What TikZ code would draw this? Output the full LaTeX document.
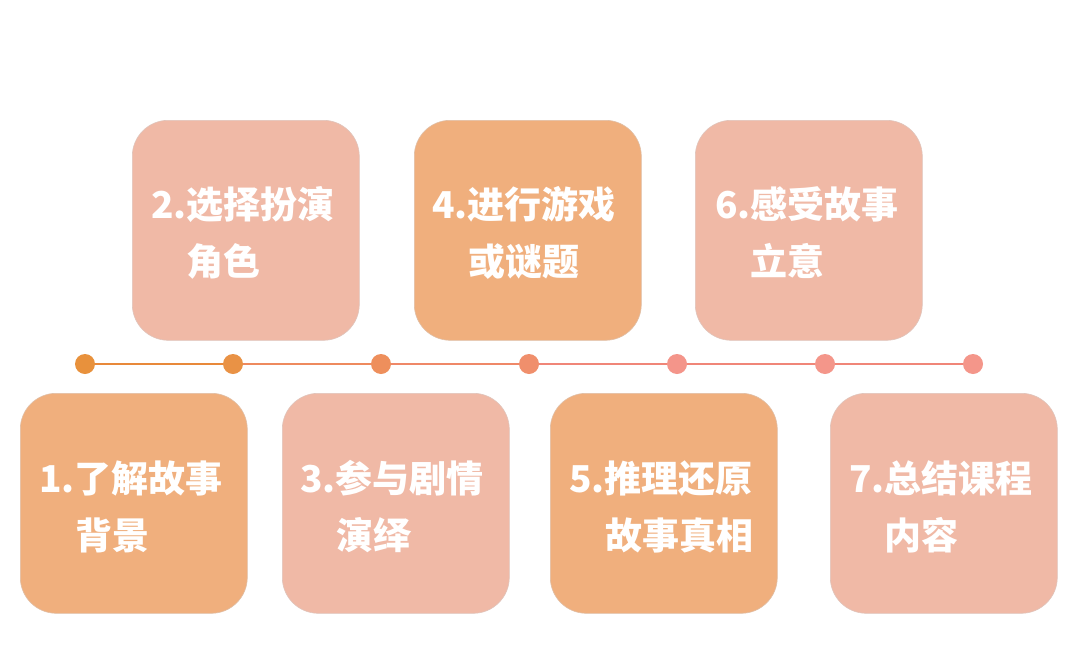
\documentclass[tikz,border=0pt]{standalone}
\usepackage{fontspec}
\newfontfamily\cjk{Noto Sans CJK SC}
\begin{document}
\begin{tikzpicture}[x=1pt,y=-1pt,
  card/.style={draw=#1!85!black!60!white, line width=0.6pt, fill=#1, rounded corners=36pt, minimum width=227pt, minimum height=220pt, anchor=north west, inner sep=0pt},
  lbl/.style={anchor=base west, inner sep=0pt, text=white, font=\cjk\bfseries\fontsize{37}{42}\selectfont},
  dotc/.style={circle, fill=#1, minimum size=20pt, inner sep=0pt},
  seg/.style={draw=#1, line width=2pt}]
\definecolor{cOr}{HTML}{F0AF7D}
\definecolor{cPk}{HTML}{F0B9A6}
\definecolor{d1}{HTML}{E8913C}
\definecolor{d2}{HTML}{E99245}
\definecolor{d3}{HTML}{EE8F5C}
\definecolor{d4}{HTML}{F08F6C}
\definecolor{d5}{HTML}{F4958A}
\definecolor{d6}{HTML}{F4968A}
\definecolor{d7}{HTML}{F4968A}
\definecolor{l1}{HTML}{E8893A}
\definecolor{l2}{HTML}{EE8A5E}
\definecolor{l3}{HTML}{F08678}
\useasboundingbox[fill=white] (0,0) rectangle (1080,667);
% boxes
\node[card=cPk] (b2) at (132,120) {};
\node[card=cOr] (b4) at (414,120) {};
\node[card=cPk] (b6) at (695,120) {};
\node[card=cOr] (b1) at (20,393) {};
\node[card=cPk] (b3) at (282,393) {};
\node[card=cOr] (b5) at (550,393) {};
\node[card=cPk] (b7) at (830,393) {};
% labels
\node[lbl] (t2a) at (151,218) {2.选择扮演};
\node[lbl] (t2b) at (186,275) {角色};
\node[lbl] (t4a) at (432,218) {4.进行游戏};
\node[lbl] (t4b) at (468,275) {或谜题};
\node[lbl] (t6a) at (715,218) {6.感受故事};
\node[lbl] (t6b) at (750,275) {立意};
\node[lbl] (t1a) at (39,492) {1.了解故事};
\node[lbl] (t1b) at (75,549) {背景};
\node[lbl] (t3a) at (300,492) {3.参与剧情};
\node[lbl] (t3b) at (336,549) {演绎};
\node[lbl] (t5a) at (569,492) {5.推理还原};
\node[lbl] (t5b) at (605,549) {故事真相};
\node[lbl] (t7a) at (849,492) {7.总结课程};
\node[lbl] (t7b) at (884,549) {内容};
% timeline
\node[dotc=d1] (p1) at (85,364) {};
\node[dotc=d2] (p2) at (233,364) {};
\node[dotc=d3] (p3) at (381,364) {};
\node[dotc=d4] (p4) at (529,364) {};
\node[dotc=d5] (p5) at (677,364) {};
\node[dotc=d6] (p6) at (825,364) {};
\node[dotc=d7] (p7) at (973,364) {};
\draw[seg=l1] (p1) -- (p2);
\draw[seg=l2] (p2) -- (p3);
\draw[seg=l2!60!l3] (p3) -- (p4);
\draw[seg=l3] (p4) -- (p5);
\draw[seg=l3] (p5) -- (p6);
\draw[seg=l3] (p6) -- (p7);
\end{tikzpicture}
\end{document}
